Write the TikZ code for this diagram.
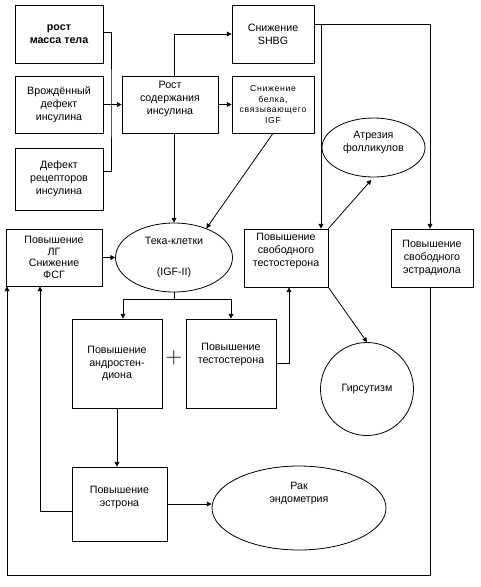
\documentclass[tikz,border=0pt]{standalone}
\usepackage{fontspec}
\setmainfont{Liberation Sans}
\newfontfamily\widefont[LetterSpace=8]{Liberation Sans}
\usetikzlibrary{shapes.geometric,arrows.meta,calc}

\begin{document}
\begin{tikzpicture}[x=0.75pt, y=-0.75pt, line width=0.6pt,
  box/.style={rectangle, draw, align=center, font=\fontsize{8}{9.6}\selectfont, inner sep=1pt},
  oval/.style={ellipse, draw, align=center, font=\fontsize{8}{9.6}\selectfont, inner sep=0pt},
  arrow/.style={-{Triangle[length=3.5pt, width=3.5pt]}},
]
\useasboundingbox (0,0) rectangle (481,587);

% === CAUSES ===
\node[box, minimum width=66pt, minimum height=43.5pt] (massa) at (59,34) {\bfseries рост\\\bfseries масса тела};
\node[box, minimum width=66pt, minimum height=42.75pt] (vrozhd) at (59,104.5) {Врождённый\\дефект\\инсулина};
\node[box, minimum width=66pt, minimum height=46.5pt] (defekt) at (59,179) {Дефект\\рецепторов\\инсулина};
\node[box, minimum width=72pt, minimum height=42.75pt, text depth=10pt] (rost) at (170,104.5) {Рост\\содержания\\инсулина};
\node[box, minimum width=61.5pt, minimum height=43.5pt] (shbg) at (273,34) {Снижение\\SHBG};
\node[box, minimum width=61.5pt, minimum height=42.75pt, font=\widefont\fontsize{6.5}{8.2}\selectfont] (belka) at (273,104.5) {Снижение\\белка,\\связывающего\\IGF};

% === MIDDLE ROW ===
\node[box, minimum width=72pt, minimum height=42.75pt, font=\fontsize{8}{8.8}\selectfont] (lg) at (54,257.5) {Повышение\\ЛГ\\Снижение\\ФСГ};
\node[oval, minimum width=87.75pt, minimum height=51.75pt] (teka) at (174,257.5) {Тека-клетки\\[14pt](IGF-II)};
\node[box, minimum width=63pt, minimum height=43.5pt, text depth=12.5pt] (svtest) at (286,258) {Повышение\\свободного\\тестостерона};
\node[oval, minimum width=77.25pt, minimum height=44.25pt, text depth=9pt] (atrez) at (373.5,147.5) {Атрезия\\фолликулов};
\node[box, minimum width=61.5pt, minimum height=43.5pt] (svestr) at (432,258) {Повышение\\свободного\\эстрадиола};

% === ANDROGENS ===
\node[box, minimum width=67.5pt, minimum height=66.75pt] (andr) at (117,363.5) {Повышение\\андростен-\\диона};
\node[font=\fontsize{17}{17}\selectfont] (plus) at (174,358) {$+$};
\node[box, minimum width=67.5pt, minimum height=66.75pt, text depth=15.5pt] (test) at (231,363.5) {Повышение\\тестостерона};
\node[circle, draw, minimum size=69.75pt, font=\fontsize{8}{9.6}\selectfont] (hirs) at (367,389) {Гирсутизм};
\node[box, minimum width=71.25pt, minimum height=55.5pt, text depth=12pt] (estron) at (119.5,504) {Повышение\\эстрона};
\node[oval, minimum width=130.5pt, minimum height=63pt, text depth=24pt] (rak) at (299,508) {Рак\\эндометрия};

% === CONNECTORS ===
\coordinate (bus) at (111,104.5);
\draw ([yshift=1.5pt]massa.east) -| (bus) |- ([yshift=6pt]defekt.east);
\draw[arrow] (vrozhd.east) -- (rost.west);
\draw[arrow] ([xshift=3pt]rost.north) |- (shbg.west);
\draw[arrow] (rost.east) -- (belka.west);
\draw[arrow] ([xshift=3pt]rost.south) -- (teka.north);
\draw[arrow] (belka.south) -- (teka.42);

\coordinate (split) at (321,24);
\draw[arrow] ([yshift=7.5pt]shbg.east) -| ([xshift=-1.5pt]svestr.north);
\draw[arrow] (split) -- (split |- svtest.north);
\draw[arrow, shorten >=2.5pt] (svtest.north east) -- (atrez.south);
\draw[arrow] (svtest.south east) -- (hirs.north);

\draw[arrow] (lg.east) -- (teka.west);
\draw (teka.south) -- ++(0,7) coordinate (fork);
\draw[arrow] (fork) -| ([xshift=4.5pt]andr.north);
\draw[arrow] (fork) -| (test.north);
\draw[arrow] (test.east) -| ([xshift=2.25pt]svtest.south);
\draw[arrow] (andr.south) -- (andr.south |- estron.north);
\draw[arrow] (estron.east) -- (estron.east -| rak.west);
\draw[arrow] ([yshift=-5.25pt]estron.west) -| ([xshift=-10.5pt]lg.south);

\coordinate (floor) at (7,575);
\draw[arrow] ([xshift=-1.5pt]svestr.south) |- (floor) -- (floor |- lg.south);
\end{tikzpicture}
\end{document}
